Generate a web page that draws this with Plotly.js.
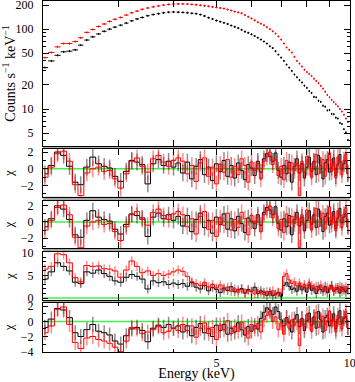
<!DOCTYPE html>
<html>
<head>
<meta charset="utf-8">
<script src="https://cdn.plot.ly/plotly-3.0.1.min.js"></script>
<style>
  html, body { margin: 0; padding: 0; background: #fff; }
  #spec { width: 355px; height: 382px; }
</style>
</head>
<body>
<div id="spec"></div>
<script>
// bin centres (keV)
var energy = [
  2.05, 2.12, 2.19, 2.26, 2.33, 2.40, 2.47, 2.55, 2.63, 2.71,
  2.79, 2.87, 2.95, 3.04, 3.13, 3.22, 3.31, 3.40, 3.50, 3.60,
  3.70, 3.80, 3.90, 4.00, 4.10,
  4.2, 4.3, 4.4, 4.5, 4.6, 4.7, 4.8, 4.9, 5.0, 5.1,
  5.2, 5.3, 5.4, 5.5, 5.6, 5.7, 5.8, 5.9, 6.0, 6.1,
  6.2, 6.3, 6.4, 6.5, 6.6, 6.7, 6.8, 6.9, 7.0, 7.1,
  7.2, 7.3, 7.4, 7.5, 7.6, 7.7, 7.8, 7.9, 8.0, 8.1,
  8.2, 8.3, 8.4, 8.5, 8.6, 8.7, 8.8, 8.9, 9.0, 9.1,
  9.2, 9.3, 9.4, 9.5, 9.6, 9.7, 9.8, 9.9
];

// counts s^-1 keV^-1
var countsBlack = [
  33, 40, 47, 52, 53, 55, 63, 73, 80, 87,
  94, 100, 106, 112, 119, 127, 134, 140, 147, 152,
  156, 160, 163, 164, 163, 162, 160, 158, 156, 152,
  146, 139, 134, 128, 124, 120, 116, 111, 107, 103,
  98, 93, 90, 86, 82, 78, 74, 70, 66, 61,
  58, 53, 48, 44, 40, 36, 33, 30, 27, 25,
  23, 21.5, 19.6, 18.4, 16.8, 15.9, 14.2, 14.0, 12.7, 12.3,
  11.0, 10.7, 9.6, 9.7, 8.7, 8.6, 7.8, 7.6, 6.7, 6.5,
  5.6, 5.1, 4.1
];
var countsRed = [
  44, 51, 60, 66, 66, 70, 78, 91, 99, 108,
  116, 125, 133, 140, 150, 160, 168, 177, 184, 190,
  195, 200, 204, 206, 207, 207, 206, 204, 202, 199,
  196, 193, 190, 187, 184, 181, 176, 171, 166, 162,
  158, 150, 143, 136, 129, 122, 117, 112, 106, 100,
  94, 88, 81, 74, 66, 59, 55, 51, 45, 40,
  37, 34, 31, 29, 27.5, 26, 24, 22.5, 21, 19.5,
  18, 16.5, 15, 14, 13, 12.2, 11.5, 10.8, 10, 9.3,
  8.5, 7.6, 6.9
];

// residuals (chi), panels 1 and 2 look the same
var chi1Black = [
  -0.6, 0.4, 2.0, 1.6, 0.3, -1.6, -1.9, 0.2, 1.4, 0.6,
  0.3, 0.1, -0.9, -1.5, -0.3, 1.0, 0.8, 0.5, -1.8, 0.6,
  1.1, 0.4, 0.9, 0.2, 0.7,
  -0.5, 0.8, -1.2, 0.3, 1.1, -0.7, 0.2, -1.4, 0.6, -0.3,
  1.0, -0.9, 0.4, -1.1, 0.7, -0.2, -1.3, 0.5, 0.1, -0.8,
  0.9, -0.4, 1.2, 1.8, 1.5, 0.9, 1.9, -0.2, -1.0, 0.4,
  -0.6, 0.8, -1.6, 0.3, 1.2, -0.5, 0.6, -1.1, 0.2, 1.4,
  -0.3, 0.9, -0.7, 1.6, 0.4, -1.2, 0.7, 1.1, -0.4, 0.2,
  1.3, -0.8, 0.5, 1.7, -0.1, 0.6, 1.0, -0.6
];
var chi1Red = [
  -1.0, 0.2, 1.8, 2.1, 0.9, -1.9, -3.2, -0.5, 0.0, 0.2,
  -0.3, -0.2, -1.2, -2.3, -0.6, 0.9, 1.3, 0.3, -0.4, 1.2,
  1.6, 0.8, 0.3, 1.0, 1.3,
  0.9, -0.6, 0.4, -1.5, 0.7, 1.3, -0.9, 0.2, -1.8, 0.5,
  -0.4, 1.1, -1.0, 0.3, -0.7, 1.2, 0.4, -1.6, 0.8, -0.2,
  0.6, -1.2, 0.9, 1.4, 2.0, 0.5, 1.1, -0.8, 0.3, -1.3,
  1.0, -0.5, 0.7, -0.2, 0.6, -3.2, 0.9, -0.4, 1.5, 0.2,
  -1.0, 0.8, 1.7, -0.6, 0.4, 1.1, -0.9, 0.6, 1.9, -0.3,
  0.8, -1.1, 1.4, 0.2, -0.7, 1.0, 1.8, -0.5
];
var chi2Black = chi1Black;
var chi2Red = chi1Red;

var chi3Black = [
  4.2, 5.8, 7.8, 7.0, 6.0, 3.5, 3.2, 5.8, 5.5, 6.2,
  5.4, 4.8, 3.8, 3.5, 4.6, 5.2, 4.8, 4.2, 2.0, 3.8,
  3.4, 3.6, 3.0, 3.3, 3.0,
  3.2, 2.6, 3.4, 2.4, 2.0, 2.8, 1.6, 2.3, 1.9, 1.2,
  2.2, 1.7, 2.5, 1.4, 1.8, 2.1, 1.1, 1.9, 1.5, 2.4,
  1.0, 1.6, 1.3, 0.6, 1.4, 0.5, 0.9, 1.2, 0.4, 2.8,
  3.4, 2.6, 1.9, 2.2, 1.5, 2.7, 1.8, 2.4, 1.3, 2.9,
  1.7, 2.2, 1.0, 2.5, 1.9, 1.4, 2.6, 1.2, 2.0, 2.8,
  1.5, 1.9, 2.3, 1.1, 2.4, 1.8, 1.3, 2.1
];
var chi3Red = [
  6.4, 7.0, 9.8, 9.6, 7.8, 4.5, 3.6, 7.2, 7.0, 7.1,
  6.5, 6.4, 6.0, 4.6, 6.2, 8.2, 7.0, 5.6, 6.0, 5.0,
  5.4, 5.0, 5.3, 5.8, 6.2,
  5.9, 4.8, 3.6, 3.2, 2.8, 3.4, 2.5, 3.0, 2.2, 2.9,
  1.8, 2.4, 1.5, 2.0, 1.3, 1.9, 1.1, 1.6, 1.4, 0.9,
  1.5, 1.2, 0.8, 1.4, 1.0, 1.6, 0.7, 1.3, 1.1, 4.8,
  5.4, 4.0, 3.2, 3.6, 2.7, 3.3, 2.5, 3.0, 2.2, 3.4,
  2.8, 2.0, 2.6, 1.8, 2.9, 2.2, 1.6, 2.4, 2.0, 2.7,
  1.5, 2.3, 1.9, 2.6, 1.4, 2.1, 2.5, 1.7
];

var chi4Black = [
  -0.8, 0.3, 1.7, 1.5, 0.5, -1.5, -2.0, -1.1, -0.4, -1.3,
  -1.5, -1.8, -2.6, -3.0, -1.9, -1.0, -0.8, -1.2, -2.7, -0.9,
  -0.5, -0.8, -0.4, -0.9, -0.6,
  -1.4, -0.6, -1.9, -0.8, -0.3, -1.5, -1.0, -2.0, -0.5, -1.2,
  -0.4, -1.7, -0.9, -1.4, -0.2, -1.1, -1.8, -0.7, -1.3, -0.6,
  -1.0, 0.4, 1.2, 1.8, 1.5, 0.9, 1.9, 1.3, 0.2, -0.6,
  0.5, -0.2, -1.4, 0.3, 0.9, -0.7, 0.4, -1.2, 0.1, 1.1,
  -0.5, 0.6, -0.9, 1.3, 0.2, -1.4, 0.5, 0.8, -0.6, 0.1,
  1.0, -1.0, 0.3, 1.4, -0.3, 0.4, 0.7, -0.8
];
var chi4Red = [
  -1.5, -0.6, 1.6, 1.9, -0.4, -2.8, -3.6, -2.2, -2.0, -2.4,
  -2.6, -2.9, -3.4, -4.0, -2.6, -0.8, -1.0, -1.6, -1.4, -1.1,
  -0.7, -1.5, -1.3, -0.9, -1.2,
  -0.4, -1.2, -0.6, -2.1, -0.9, -0.2, -1.6, -0.8, -2.4, -0.5,
  -1.1, 0.1, -1.6, -0.7, -1.3, -0.1, -0.9, -2.2, -0.4, -1.0,
  -0.3, -1.4, 0.2, 0.8, 1.3, 0.0, 0.6, -1.1, -0.2, -1.7,
  0.4, -0.9, 0.2, -0.5, -0.1, -3.2, 0.3, -0.7, 0.9, -0.1,
  -1.3, 0.5, 1.2, -0.8, 0.0, 0.7, -1.2, 0.1, 1.4, -0.6,
  0.3, -1.4, 0.8, -0.4, -1.0, 0.6, 1.3, -0.8
];

var RED = '#ff0000', RED_ERR = 'rgba(255,0,0,0.45)';
var BLK = '#000000', BLK_ERR = 'rgba(0,0,0,0.45)';

function specTrace(y, col) {
  return {
    x: energy, y: y, xaxis: 'x', yaxis: 'y',
    type: 'scatter', mode: 'markers',
    marker: {size: 1, color: col},
    error_x: {type: 'constant', value: 0.035, color: col, thickness: 1, width: 0},
    error_y: {type: 'percent', value: 3, color: col, thickness: 1, width: 0},
    hoverinfo: 'skip'
  };
}

function chiTrace(y, ax, col, errCol) {
  return {
    x: energy, y: y, xaxis: 'x', yaxis: ax,
    type: 'scatter', mode: 'lines',
    line: {color: col, width: 1, shape: 'hvh'},
    error_y: {type: 'constant', value: 1, color: errCol, thickness: 1.5, width: 0},
    hoverinfo: 'skip'
  };
}

var data = [
  specTrace(countsBlack, BLK),
  specTrace(countsRed, RED),
  chiTrace(chi1Black, 'y2', BLK, BLK_ERR),
  chiTrace(chi1Red, 'y2', RED, RED_ERR),
  chiTrace(chi2Black, 'y3', BLK, BLK_ERR),
  chiTrace(chi2Red, 'y3', RED, RED_ERR),
  chiTrace(chi3Black, 'y4', BLK, BLK_ERR),
  chiTrace(chi3Red, 'y4', RED, RED_ERR),
  chiTrace(chi4Black, 'y5', BLK, BLK_ERR),
  chiTrace(chi4Red, 'y5', RED, RED_ERR)
];

var font = {family: 'Liberation Serif, Times New Roman, serif', size: 12, color: '#000'};

function chiAxis(domain, range, vals) {
  return {
    domain: domain, range: range, anchor: 'x',
    tickvals: vals, ticks: 'inside', ticklen: 5, tickcolor: '#000',
    minor: {dtick: 1, ticks: 'inside', ticklen: 3, tickcolor: '#000'},
    showline: true, linecolor: '#000', linewidth: 1, mirror: 'ticks',
    showgrid: false, zeroline: false,
    ticklabelstandoff: 6, ticklabeloverflow: 'allow',
    title: {text: '\u03c7', font: {size: 13}, standoff: 4}
  };
}

// gray bands between the panels
var gaps = [[0.578, 0.587], [0.430, 0.442], [0.285, 0.296], [0.140, 0.148]];
var shapes = gaps.map(function (g) {
  return {type: 'rect', xref: 'paper', yref: 'paper', x0: 0, x1: 1, y0: g[0], y1: g[1],
          fillcolor: '#aaaaaa', line: {width: 0}, layer: 'below'};
});
// green zero lines
['y2', 'y3', 'y4', 'y5'].forEach(function (ax) {
  shapes.push({type: 'line', xref: 'paper', yref: ax, x0: 0, x1: 1, y0: 0, y1: 0,
               line: {color: '#44ee44', width: 1.5}, layer: 'below'});
});

var layout = {
  width: 355, height: 382,
  margin: {l: 43, r: 5, t: 1, b: 30},
  showlegend: false,
  font: font,
  paper_bgcolor: '#fff', plot_bgcolor: '#fff',
  shapes: shapes,
  xaxis: {
    type: 'log', range: [0.3075, 1.0005], anchor: 'y5',
    tickvals: [5, 10], ticktext: ['5', '10'],
    ticks: 'inside', ticklen: 6, tickcolor: '#000',
    minor: {tickvals: [3, 4, 6, 7, 8, 9], ticks: 'inside', ticklen: 3, tickcolor: '#000'},
    showline: true, linecolor: '#000', linewidth: 1, mirror: 'allticks',
    showgrid: false, zeroline: false, ticklabeloverflow: 'allow',
    title: {text: 'Energy (keV)', standoff: 4}
  },
  yaxis: {
    type: 'log', range: [0.5375, 2.352], domain: [0.587, 1], anchor: 'x',
    tickvals: [5, 10, 20, 50, 100, 200],
    ticks: 'inside', ticklen: 6, tickcolor: '#000',
    minor: {tickvals: [4, 6, 7, 8, 9, 30, 40, 60, 70, 80, 90], ticks: 'inside', ticklen: 3, tickcolor: '#000'},
    showline: true, linecolor: '#000', linewidth: 1, mirror: 'ticks',
    showgrid: false, zeroline: false,
    ticklabelstandoff: 6, ticklabeloverflow: 'allow',
    title: {text: 'Counts s<sup>\u22121</sup> keV<sup>\u22121</sup>', standoff: 4}
  },
  yaxis2: chiAxis([0.442, 0.578], [-3.35, 2.35], [-2, 0, 2]),
  yaxis3: chiAxis([0.296, 0.430], [-3.25, 2.6], [-2, 0, 2]),
  yaxis4: chiAxis([0.148, 0.285], [-0.45, 10.2], [0, 5, 10]),
  yaxis5: chiAxis([0, 0.140], [-4.05, 2.45], [-4, -2, 0, 2])
};

Plotly.newPlot('spec', data, layout, {staticPlot: true, displayModeBar: false});
</script>
</body>
</html>
